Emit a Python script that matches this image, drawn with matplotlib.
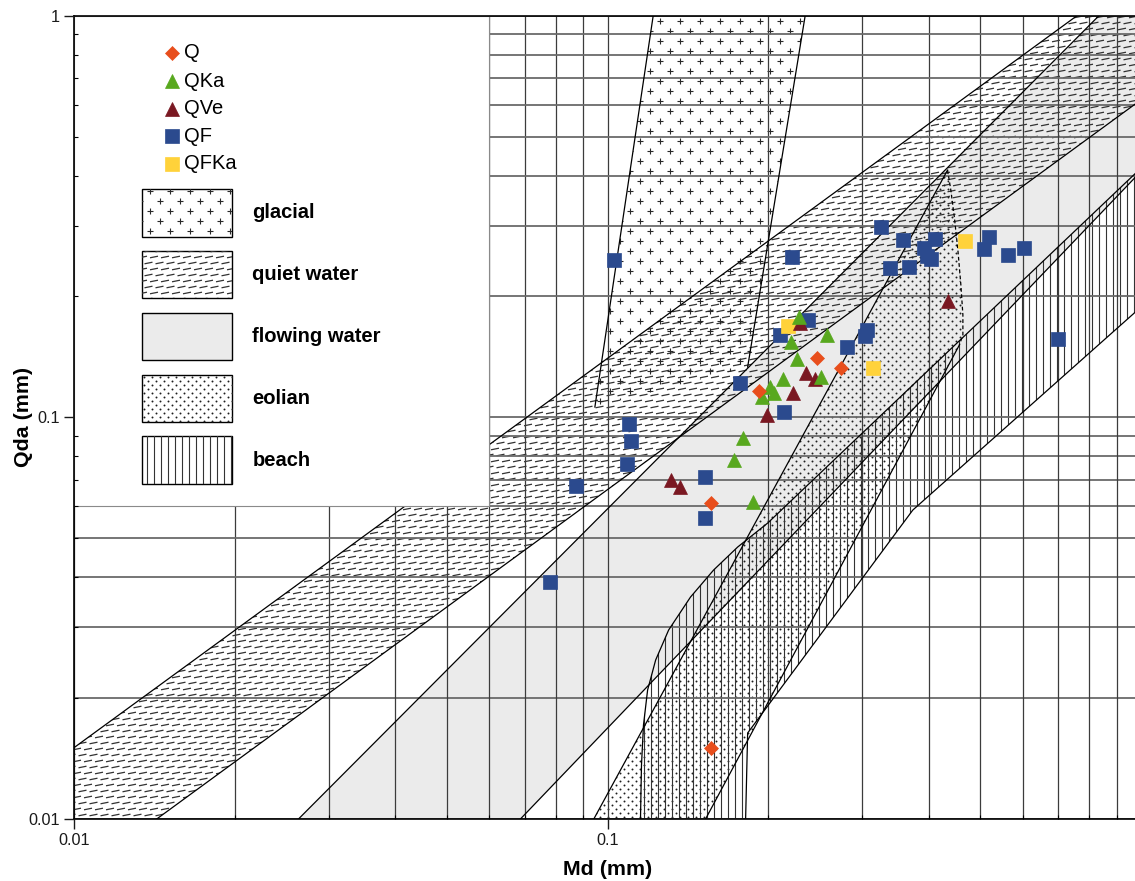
import numpy as np
import matplotlib
matplotlib.use('Agg')
import matplotlib.pyplot as plt
from matplotlib.patches import Polygon, Rectangle
from matplotlib.collections import LineCollection
from matplotlib.ticker import FuncFormatter, NullFormatter

plt.rcParams['font.family'] = ['Liberation Sans', 'DejaVu Sans']

# ---------------- data (Md, Qda in mm) ----------------
q_md = [0.1923, 0.2467, 0.2736, 0.1565, 0.1565]
q_qda = [0.1165, 0.1402, 0.1329, 0.0611, 0.0150]

qka_md = [0.2289, 0.2205, 0.2584, 0.2262, 0.2130, 0.2016, 0.2051, 0.1948, 0.2517, 0.1792, 0.1726, 0.1871]
qka_qda = [0.1780, 0.1542, 0.1603, 0.1394, 0.1248, 0.1192, 0.1148, 0.1121, 0.1258, 0.0886, 0.0783, 0.0616]

qve_md = [0.2295, 0.2352, 0.2448, 0.2230, 0.1994, 0.1313, 0.1367, 0.4339]
qve_qda = [0.1714, 0.1287, 0.1248, 0.1151, 0.1013, 0.0698, 0.0670, 0.1948]

qf_md = [0.1030, 0.0780, 0.0872, 0.1096, 0.1108, 0.1089, 0.1522, 0.1522, 0.1771, 0.2142,
         0.2103, 0.2380, 0.2217, 0.2808, 0.3071, 0.3035, 0.3262, 0.3584, 0.4111, 0.3921,
         0.3967, 0.4037, 0.3388, 0.3674, 0.5192, 0.5082, 0.5638, 0.6025, 0.6979]
qf_qda = [0.2464, 0.0390, 0.0675, 0.0965, 0.0875, 0.0765, 0.0710, 0.0562, 0.1220, 0.1033,
          0.1603, 0.1747, 0.2511, 0.1494, 0.1649, 0.1598, 0.2972, 0.2771, 0.2779, 0.2635,
          0.2521, 0.2474, 0.2357, 0.2364, 0.2816, 0.2629, 0.2531, 0.2635, 0.1564]

qfka_md = [0.2179, 0.3146, 0.4680]
qfka_qda = [0.1691, 0.1329, 0.2752]

# environment field boundaries
glacial_md = [0.1218, 0.2347, 0.1831, 0.0947]
glacial_qda = [1.0, 1.0, 0.1334, 0.1061]

quiet_upper_md = [0.01, 0.7586]
quiet_upper_qda = [0.01505, 1.0]
quiet_lower_md = [0.01429, 1.0]
quiet_lower_qda = [0.01, 0.6174]

flow_upper_md = [0.02635, 0.834]
flow_upper_qda = [0.01, 1.0]
flow_lower_md = [0.06867, 1.0]
flow_lower_qda = [0.01, 0.4097]

eolian_left_md = [0.09426, 0.4339]
eolian_left_qda = [0.01, 0.4127]
eolian_dash_md = [0.4339, 0.4401, 0.4468, 0.4537, 0.4596, 0.4636, 0.4636, 0.4566]
eolian_dash_qda = [0.4127, 0.3680, 0.3152, 0.2609, 0.2135, 0.1798, 0.1603, 0.1514]
eolian_right_md = [0.4566, 0.1527]
eolian_right_qda = [0.1514, 0.01]

beach_upper_md = [0.1153, 0.1158, 0.1168, 0.1189, 0.1231, 0.1302, 0.1431, 0.1581, 0.1754, 0.1997, 1.0]
beach_upper_qda = [0.01, 0.01363, 0.01714, 0.02095, 0.02488, 0.02955, 0.03570, 0.04168, 0.04755, 0.05457, 0.4175]
beach_lower_md = [1.0, 0.3735, 0.1831, 0.1815]
beach_lower_qda = [0.1882, 0.05878, 0.01637, 0.01]

series = [
    ('QF', qf_md, qf_qda, 's', '#2B4A8E', 9.6),
    ('QFKa', qfka_md, qfka_qda, 's', '#FFD23A', 9.6),
    ('QVe', qve_md, qve_qda, '^', '#7A1822', 10.0),
    ('QKa', qka_md, qka_qda, '^', '#58A81E', 10.0),
    ('Q', q_md, q_qda, 'D', '#E84E1C', 6.8),
]
legend_order = ['Q', 'QKa', 'QVe', 'QF', 'QFKa']
field_labels = ['glacial', 'quiet water', 'flowing water', 'eolian', 'beach']

# ---------------- figure ----------------
W, H = 1135, 881
L, R, T, B = 74, 1141, 15.7, 819
fig = plt.figure(figsize=(W / 100, H / 100), dpi=100)
ax = fig.add_axes([L / W, (H - B) / H, (R - L) / W, (B - T) / H])
ax.set_xscale('log')
ax.set_yscale('log')
ax.set_xlim(0.01, 1)
ax.set_ylim(0.01, 1)

# grid
gvals = [m * 10.0 ** e for e in (-2, -1) for m in range(1, 10)] + [1.0]
for v in gvals:
    ax.axvline(v, color='#3c3c3c', lw=0.9, zorder=2.5)
    ax.axhline(v, color='#6a6a6a', lw=1.3, zorder=2.5)

inv = ax.transAxes.inverted()


def bbox_disp(patch):
    v = patch.get_transform().transform(patch.get_path().vertices)
    return v[:, 0].min(), v[:, 1].min(), v[:, 0].max(), v[:, 1].max()


def grid_points(patch, dx, dy, stagger=True):
    x0, y0, x1, y1 = bbox_disp(patch)
    pts = []
    for j in range(int(np.floor(y0 / dy)) - 1, int(np.ceil(y1 / dy)) + 2):
        y = j * dy
        off = dx / 2 if (stagger and j % 2) else 0.0
        for i in range(int(np.floor((x0 - off) / dx)) - 1, int(np.ceil((x1 - off) / dx)) + 2):
            pts.append((i * dx + off, y))
    return np.array(pts)


def add_segments(segs, patch, z, color='#2a2a2a', lw=0.8):
    segs = [inv.transform(np.array(s)) for s in segs]
    lc = LineCollection(segs, colors=color, linewidths=lw, transform=ax.transAxes, zorder=z)
    ax.add_collection(lc, autolim=False)
    lc.set_clip_path(patch)


def pat_plus(patch, z):
    a = 2.6
    segs = []
    for x, y in grid_points(patch, 20, 10):
        segs.append([(x - a, y), (x + a, y)])
        segs.append([(x, y - a), (x, y + a)])
    add_segments(segs, patch, z, lw=0.8)


def pat_dash(patch, z):
    segs = []
    for x, y in grid_points(patch, 11, 6):
        segs.append([(x - 4.0, y - 0.8), (x + 4.0, y + 0.8)])
    add_segments(segs, patch, z, color='#333333', lw=0.9)


def pat_dots(patch, z):
    pts = inv.transform(grid_points(patch, 8, 4))
    ln, = ax.plot(pts[:, 0], pts[:, 1], 'o', ms=1.4, color='#1e1e1e', mew=0,
                  transform=ax.transAxes, zorder=z)
    ln.set_clip_path(patch)


def pat_vlines(patch, z):
    x0, y0, x1, y1 = bbox_disp(patch)
    segs = [[(i * 7.0, y0 - 2), (i * 7.0, y1 + 2)] for i in range(int(x0 // 7) - 1, int(x1 // 7) + 2)]
    add_segments(segs, patch, z, color='#333333', lw=0.8)


def poly(verts, **kw):
    p = Polygon(verts, closed=True, transform=ax.transData, **kw)
    ax.add_patch(p)
    return p


# flowing water (grey)
flow_verts = list(zip(flow_upper_md, flow_upper_qda)) + [(1.0, 1.0)] + list(zip(flow_lower_md, flow_lower_qda))[::-1]
poly(flow_verts, facecolor='#EBEBEB', edgecolor='none', zorder=1)

# quiet water
quiet_verts = list(zip(quiet_upper_md, quiet_upper_qda)) + [(1.0, 1.0)] + \
    list(zip(quiet_lower_md, quiet_lower_qda))[::-1] + [(0.01, 0.01)]
pq = poly(quiet_verts, facecolor='none', edgecolor='none', zorder=1)
pat_dash(pq, 1.6)

# glacial
pg = poly(list(zip(glacial_md, glacial_qda)), facecolor='none', edgecolor='none', zorder=1)
pat_plus(pg, 1.7)

# eolian
eol_verts = list(zip(eolian_left_md, eolian_left_qda)) + list(zip(eolian_dash_md, eolian_dash_qda))[1:] + \
    list(zip(eolian_right_md, eolian_right_qda))[1:]
pe = poly(eol_verts, facecolor='none', edgecolor='none', zorder=1)
pat_dots(pe, 1.8)

# beach
beach_verts = list(zip(beach_upper_md, beach_upper_qda)) + list(zip(beach_lower_md, beach_lower_qda))
pb = poly(beach_verts, facecolor='none', edgecolor='none', zorder=1)
pat_vlines(pb, 1.9)

# outlines
lkw = dict(color='k', lw=0.9, zorder=3)
ax.plot(quiet_upper_md, quiet_upper_qda, **lkw)
ax.plot(quiet_lower_md, quiet_lower_qda, **lkw)
ax.plot(flow_upper_md, flow_upper_qda, **lkw)
ax.plot(flow_lower_md, flow_lower_qda, **lkw)
ax.plot(glacial_md[:1] + glacial_md[3:], glacial_qda[:1] + glacial_qda[3:], **lkw)
ax.plot(glacial_md[1:3], glacial_qda[1:3], **lkw)
ax.plot(eolian_left_md, eolian_left_qda, **lkw)
ax.plot(eolian_right_md, eolian_right_qda, **lkw)
ax.plot(eolian_dash_md, eolian_dash_qda, color='k', lw=0.9, ls=(0, (3, 2)), zorder=3)
ax.plot(beach_upper_md, beach_upper_qda, **lkw)
ax.plot(beach_lower_md, beach_lower_qda, **lkw)

# white legend panel
ax.add_patch(Rectangle((0.01, 0.06), 0.05, 0.94, transform=ax.transData, facecolor='white',
                       edgecolor='#8a8a8a', lw=0.8, zorder=4))

# data points
style = {}
for name, md, qda, mk, col, ms in series:
    style[name] = (mk, col, ms)
    ax.plot(md, qda, ls='none', marker=mk, ms=ms, color=col, mec=col, mew=0.5, zorder=6)

# legend: markers
leg_y = [0.9539, 0.9187, 0.8839, 0.8502, 0.8158]
for name, fy in zip(legend_order, leg_y):
    mk, col, ms = style[name]
    ax.plot([0.0918], [fy], ls='none', marker=mk, ms=ms, color=col, mec=col, mew=0.5,
            transform=ax.transAxes, zorder=6)
    ax.text(0.1031, fy, name, transform=ax.transAxes, fontsize=14.5, va='center', ha='left', zorder=6)

# legend: fields
box_y = [0.7249, 0.6482, 0.5710, 0.4938, 0.4170]
bw, bh = 0.08435, 0.0594
fills = [pat_plus, pat_dash, None, pat_dots, pat_vlines]
for lab, by, fn in zip(field_labels, box_y, fills):
    fc = '#EBEBEB' if fn is None else 'white'
    rb = Rectangle((0.0640, by), bw, bh, transform=ax.transAxes, facecolor=fc, edgecolor='k', lw=1.0, zorder=5)
    ax.add_patch(rb)
    if fn is not None:
        fn(rb, 5.1)
    ax.text(0.1671, by + bh / 2, lab, transform=ax.transAxes, fontsize=14.5, fontweight='bold',
            va='center', ha='left', zorder=6)

# axes styling
for s in ax.spines.values():
    s.set_zorder(10)
    s.set_linewidth(1.2)
ax.xaxis.set_zorder(10)
ax.yaxis.set_zorder(10)
ax.xaxis.set_major_formatter(FuncFormatter(lambda v, p: '' if v >= 0.99 else f'{v:g}'))
ax.yaxis.set_major_formatter(FuncFormatter(lambda v, p: f'{v:g}'))
ax.xaxis.set_minor_formatter(NullFormatter())
ax.yaxis.set_minor_formatter(NullFormatter())
ax.tick_params(which='major', direction='out', length=7, width=1.0, labelsize=11.7, pad=3, colors='#1a1a1a')
ax.tick_params(which='minor', direction='in', length=3, width=0.8)
ax.set_xlabel('Md (mm)', fontsize=15.4, fontweight='bold', labelpad=8.5)
ax.set_ylabel('Qda (mm)', fontsize=15.4, fontweight='bold', labelpad=-3)

fig.savefig('out.png', dpi=100)
